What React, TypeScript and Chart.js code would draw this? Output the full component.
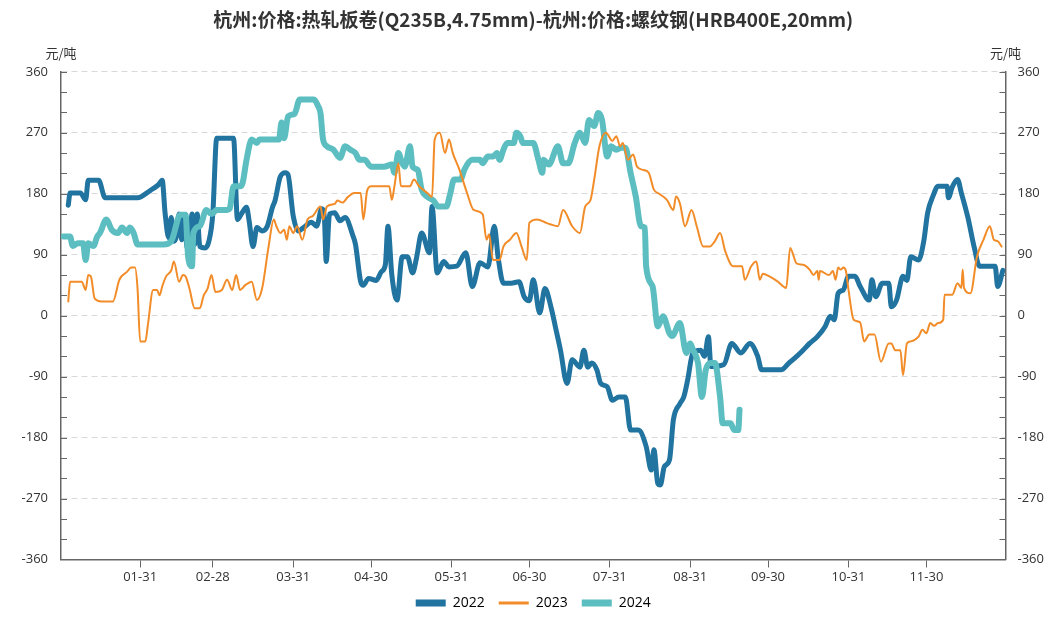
import React, { useEffect, useRef } from 'react';
import { Chart, registerables } from 'chart.js';

Chart.register(...registerables);

const TITLE = '杭州:价格:热轧板卷(Q235B,4.75mm)-杭州:价格:螺纹钢(HRB400E,20mm)';
const UNIT = '元/吨';
const FONT = "'Open Sans', 'Noto Sans CJK SC', sans-serif";
const CJK_FONT = "'Noto Sans CJK SC', sans-serif";

// x axis: day of year (0 = 01-01)
const tickDays = [30, 58, 89, 119, 150, 180, 211, 242, 272, 303, 333];
const tickLabels = ['01-31', '02-28', '03-31', '04-30', '05-31', '06-30', '07-31', '08-31', '09-30', '10-31', '11-30'];

const seriesNames = ['2022', '2023', '2024'];
const seriesColors = ['#2173A0', '#F28C28', '#5CBEC0'];

const days2022 = [2.3, 3, 7, 9, 10, 14, 16.5, 29, 34, 37, 38.5, 39.6, 41, 42, 43, 44, 45, 46, 47, 48, 49, 50, 51, 52, 53, 55, 56.5, 58, 59.5, 66, 67.5, 69, 71, 72, 73.5, 75, 77, 79, 81, 82, 84, 86, 87, 89, 91, 93, 96, 98, 100, 101, 101.7, 103, 105, 107, 109, 112, 113, 115, 116, 118, 121, 123, 124.5, 125.5, 127, 129, 131, 133, 135, 136.5, 138.5, 141.5, 142.5, 144.5, 147, 149, 152, 155.5, 158, 161, 164, 166.5, 168, 170, 173, 176, 178, 180, 181.5, 184, 186, 188.5, 190, 192, 194.5, 196.5, 199.5, 201, 202.5, 204, 206, 207.5, 210, 212, 214.5, 217, 219, 222, 225, 227, 228, 229.5, 230.5, 232, 234, 235.5, 238, 239.5, 241, 243, 246, 247.5, 249, 250, 255, 258, 261.5, 265, 268, 269.5, 277, 280, 283, 285, 288, 291, 294, 296, 297.5, 299, 301, 303, 305.5, 307.5, 311, 312, 313.5, 316, 318.5, 319.5, 321.5, 324, 325.5, 327, 330, 332, 333.5, 335.5, 337.5, 341, 341.5, 343, 345, 346.5, 349, 351.5, 353.5, 359.5, 360.5, 362.5];
const vals2022 = [163, 181, 181, 171, 200, 200, 174, 174, 185, 193, 200, 152, 115, 145, 110, 118, 150, 112, 148, 102, 100, 150, 105, 150, 102, 100, 110, 150, 262, 262, 142, 150, 160, 140, 102, 130, 125, 132, 160, 170, 205, 211, 208, 147, 125, 130, 138, 132, 158, 145, 80, 150, 152, 140, 145, 118, 105, 50, 45, 55, 52, 65, 75, 132, 60, 23, 87, 87, 63, 85, 122, 93, 161, 63, 80, 72, 73, 93, 43, 78, 72, 132, 85, 48, 48, 50, 28, 22, 53, 4, 40, 10, -16, -51, -100, -65, -76, -51, -76, -70, -80, -100, -105, -125, -120, -120, -169, -169, -193, -228, -198, -248, -250, -223, -213, -154, -130, -120, -95, -55, -51, -60, -31, -75, -72, -41, -55, -41, -60, -80, -80, -70, -60, -53, -41, -31, -16, -1, -6, 33, 38, 58, 58, 43, 23, 53, 28, 48, 48, 13, 23, 58, 52, 87, 82, 110, 152, 176, 191, 191, 174, 190, 201, 181, 145, 100, 73, 73, 43, 67];

const days2023 = [2.3, 3, 7.5, 9, 10, 11, 12.5, 15, 19.5, 22, 25, 26.5, 28, 29, 30, 32, 33, 35, 36.5, 37.5, 38.5, 40, 42, 43, 45, 46.5, 47.5, 49, 51, 53, 54.5, 56, 57.5, 59, 61.5, 63.5, 65.5, 67, 68.5, 70.5, 73, 75, 77, 79.5, 81.5, 82.5, 84, 85.5, 86.5, 87.5, 89, 90.5, 92.5, 94.5, 96.5, 99.5, 100.5, 102, 105, 106, 108, 110, 112.5, 115, 116, 117.5, 119, 126, 127, 128, 129.5, 130.5, 134, 135.5, 137.5, 141, 142.5, 143.5, 145.5, 147.5, 149, 150.5, 153, 156, 158.5, 162, 163.5, 164.5, 166, 168.5, 170, 172.5, 175, 177, 179, 180, 183, 186.5, 188, 191, 193, 196.5, 199.5, 201.5, 203.5, 205, 207, 209.5, 212, 213.5, 215, 216, 218, 220, 221.5, 224, 226, 228, 230, 233, 235.5, 236.5, 238, 240, 242.5, 244.5, 247, 249.5, 251.5, 253.5, 255.5, 258.5, 262, 263, 265.5, 267.5, 268.8, 270, 272.5, 275.5, 279, 280.5, 283, 285.5, 288, 289.5, 291, 291.5, 292, 295.5, 297, 298, 299, 300, 301, 302, 303, 305, 307.5, 309, 311, 313, 315.5, 318.5, 319.5, 321, 323, 324, 325.5, 327, 330, 331.5, 333, 334.5, 336, 337.5, 339.5, 340, 343, 345, 346.5, 347, 347.5, 350, 352.5, 355, 357.5, 359, 360.5, 362];
const vals2023 = [21, 50, 50, 38, 60, 58, 25, 21, 21, 53, 65, 71, 71, 40, -38, -38, -13, 38, 38, 30, 43, 58, 67, 80, 50, 60, 58, 40, 11, 11, 30, 40, 60, 35, 38, 53, 38, 60, 38, 45, 50, 23, 40, 102, 142, 132, 122, 127, 112, 132, 122, 132, 112, 142, 147, 161, 142, 161, 165, 170, 167, 175, 181, 181, 142, 185, 191, 191, 171, 191, 225, 191, 191, 201, 191, 180, 175, 260, 270, 240, 260, 240, 216, 181, 156, 150, 112, 120, 82, 82, 102, 112, 122, 102, 82, 137, 142, 137, 135, 132, 156, 132, 122, 161, 170, 201, 250, 270, 258, 265, 250, 255, 230, 238, 220, 215, 211, 186, 180, 171, 156, 176, 166, 132, 156, 132, 102, 102, 110, 122, 95, 73, 73, 53, 73, 80, 53, 62, 58, 51, 41, 100, 77, 75, 68, 60, 66, 53, 66, 60, 66, 53, 71, 68, 71, 66, 38, -6, -10, -38, -28, -28, -68, -41, -41, -51, -51, -88, -41, -38, -31, -21, -26, -11, -15, -11, -6, 31, 31, 48, 41, 68, 41, 33, 87, 112, 132, 112, 110, 102];

const days2024 = [0.5, 3, 4, 6, 8, 9, 10, 12, 13.5, 14.5, 17, 19, 21.5, 23, 25, 26, 27.5, 29, 39, 42, 45.5, 47.5, 48.5, 50, 50.5, 53, 55.5, 57.5, 59.5, 63.5, 64.5, 66, 68.5, 69.5, 71, 73, 75, 76, 83.5, 84.5, 85.5, 87, 89.5, 91.5, 97, 98.5, 99.5, 100.5, 102, 104.5, 107, 109, 111, 113, 114.5, 116.5, 119, 124, 127, 128, 129.5, 131, 132, 134, 135, 137, 138.5, 140.5, 143, 145, 148, 149.5, 151, 153.5, 155, 158, 161, 162, 164, 166, 167.5, 168.5, 170, 171.5, 174, 175, 176.5, 177.5, 181.5, 183.5, 185, 185.5, 187.5, 191, 193, 195, 197.5, 199.5, 201.5, 203, 205, 206.5, 208, 210, 211.5, 213.5, 215.5, 217, 219, 221, 223, 224.5, 225, 227.5, 229.5, 231.5, 234, 235, 238, 240.5, 242, 243, 245, 246.5, 248, 250, 251.5, 253.5, 254.5, 257.5, 259, 260.5, 261];
const vals2024 = [117, 117, 103, 107, 107, 82, 107, 103, 117, 122, 142, 127, 122, 130, 122, 130, 122, 105, 105, 110, 149, 149, 87, 73, 122, 132, 156, 150, 156, 156, 158, 191, 191, 196, 230, 260, 255, 260, 260, 285, 262, 294, 298, 319, 319, 310, 299, 260, 250, 245, 233, 250, 245, 240, 230, 230, 220, 220, 223, 211, 240, 225, 220, 250, 220, 215, 186, 176, 170, 161, 161, 180, 201, 201, 216, 230, 230, 225, 235, 235, 240, 230, 245, 255, 255, 270, 265, 255, 255, 230, 211, 230, 223, 250, 225, 225, 255, 270, 255, 289, 280, 299, 289, 235, 250, 245, 248, 248, 211, 176, 132, 130, 73, 43, -16, -1, -26, -30, -11, -55, -41, -50, -70, -120, -80, -70, -70, -120, -159, -159, -169, -169, -139];

const seriesDays = [days2022, days2023, days2024];
const seriesVals = [vals2022, vals2023, vals2024];
const lineWidths = [5, 2, 6];
const legendWidths = [7, 3, 7];
const drawOrder = [2, 0, 1];

const decorPlugin = {
  id: 'decor',
  beforeDatasetsDraw(chart: any) {
    const { ctx, chartArea } = chart;
    const { left, right } = chartArea;
    const y = chart.scales.y;
    ctx.save();
    ctx.strokeStyle = '#666';
    ctx.lineWidth = 1;
    for (let v = -330; v <= 360; v += 30) {
      const py = Math.round(y.getPixelForValue(v)) + 0.5;
      ctx.beginPath();
      ctx.moveTo(left, py);
      ctx.lineTo(left + 6, py);
      ctx.moveTo(right - 6, py);
      ctx.lineTo(right, py);
      ctx.stroke();
    }
    ctx.restore();
  },
  afterDraw(chart: any) {
    const { ctx, chartArea } = chart;
    ctx.save();
    ctx.fillStyle = '#333';
    ctx.font = `13px ${CJK_FONT}`;
    ctx.textAlign = 'center';
    ctx.textBaseline = 'middle';
    ctx.fillText(UNIT, chartArea.left, chartArea.top - 19);
    ctx.fillText(UNIT, chartArea.right, chartArea.top - 19);
    ctx.restore();
  },
};

export default function App() {
  const canvasRef = useRef<HTMLCanvasElement | null>(null);

  useEffect(() => {
    if (!canvasRef.current) return;
    const datasets = seriesNames.map((name, i) => ({
      label: name,
      data: seriesDays[i].map((d, j) => ({ x: d, y: seriesVals[i][j] })),
      borderColor: seriesColors[i],
      backgroundColor: seriesColors[i],
      borderWidth: lineWidths[i],
      pointRadius: 0,
      pointHoverRadius: 0,
      cubicInterpolationMode: 'monotone' as const,
      borderJoinStyle: 'round' as const,
      borderCapStyle: 'round' as const,
      fill: false,
      order: drawOrder[i],
      yAxisID: 'y',
    }));

    const chart = new Chart(canvasRef.current, {
      type: 'line',
      data: { datasets },
      plugins: [decorPlugin],
      options: {
        animation: false,
        responsive: true,
        maintainAspectRatio: false,
        layout: { padding: { top: 0, bottom: 6, left: 0, right: 0 } },
        plugins: {
          title: {
            display: true,
            text: TITLE,
            fullSize: false,
            color: '#333',
            font: { family: CJK_FONT, size: 19, weight: 'bold' },
            padding: { top: 8, bottom: 41 },
          },
          legend: {
            position: 'bottom',
            fullSize: false,
            labels: {
              usePointStyle: true,
              pointStyleWidth: 30,
              boxHeight: 7,
              padding: 14,
              color: '#333',
              font: { family: FONT, size: 14 },
              generateLabels: (c: any) =>
                c.data.datasets.map((ds: any, i: number) => ({
                  text: ds.label,
                  fillStyle: seriesColors[i],
                  strokeStyle: seriesColors[i],
                  lineWidth: legendWidths[i],
                  lineCap: 'butt',
                  pointStyle: 'line',
                  hidden: false,
                  datasetIndex: i,
                })),
            },
          },
          tooltip: { enabled: false },
        },
        scales: {
          x: {
            type: 'linear',
            min: -0.5,
            max: 363.5,
            afterBuildTicks: (s: any) => {
              s.ticks = tickDays.map((v) => ({ value: v }));
            },
            afterFit: (s: any) => {
              s.height = 22.5;
            },
            grid: { drawOnChartArea: false, drawTicks: true, tickLength: 8, tickColor: '#666', tickWidth: 1 },
            border: { display: true, color: '#666', width: 1.5 },
            ticks: {
              autoSkip: false,
              maxRotation: 0,
              padding: 2,
              color: '#333',
              font: { family: FONT, size: 13 },
              callback: (_v: any, i: number) => tickLabels[i],
            },
          },
          y: {
            position: 'left',
            min: -360,
            max: 360,
            afterFit: (s: any) => {
              s.width = 61;
            },
            ticks: { stepSize: 90, padding: 13, color: '#333', font: { family: FONT, size: 13 } },
            grid: {
              drawTicks: false,
              color: (ctx: any) => (ctx.tick && ctx.tick.value === -360 ? 'rgba(0,0,0,0)' : '#d9d9d9'),
              lineWidth: 1,
            },
            border: { display: true, color: '#666', width: 1.5, dash: [6, 4] },
          },
          y2: {
            position: 'right',
            min: -360,
            max: 360,
            afterFit: (s: any) => {
              s.width = 41.5;
            },
            ticks: { stepSize: 90, padding: 12, color: '#333', font: { family: FONT, size: 13 } },
            grid: { drawOnChartArea: false, drawTicks: false },
            border: { display: true, color: '#666', width: 1.5 },
          },
        },
      },
    });
    return () => chart.destroy();
  }, []);

  return (
    <div style={{ position: 'fixed', left: 0, top: 0, width: 1047, height: 626 }}>
      <canvas ref={canvasRef} />
    </div>
  );
}
